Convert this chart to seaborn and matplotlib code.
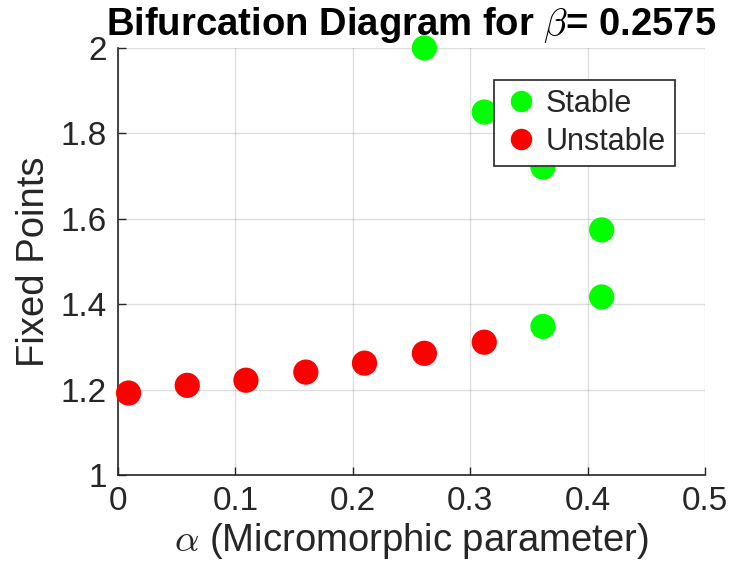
import numpy as np
import pandas as pd
import matplotlib
matplotlib.use("Agg")
import matplotlib.pyplot as plt
import seaborn as sns

# fixed points
alpha_unstable = [0.009, 0.059, 0.109, 0.160, 0.210, 0.261, 0.312]
fp_unstable = [1.192, 1.210, 1.222, 1.241, 1.262, 1.285, 1.311]
alpha_stable = [0.261, 0.312, 0.362, 0.362, 0.412, 0.412]
fp_stable = [2.000, 1.850, 1.721, 1.348, 1.574, 1.417]

xticks = [0, 0.1, 0.2, 0.3, 0.4, 0.5]
yticks = [1, 1.2, 1.4, 1.6, 1.8, 2]
ytick_labels = ["1", "1.2", "1.4", "1.6", "1.8", "2"]

df = pd.DataFrame({
    "alpha": alpha_stable + alpha_unstable,
    "fp": fp_stable + fp_unstable,
    "kind": ["Stable"] * len(alpha_stable) + ["Unstable"] * len(alpha_unstable),
})

sns.set_theme(style="white")
plt.rcParams["font.family"] = ["Liberation Sans", "DejaVu Sans"]
plt.rcParams["mathtext.fontset"] = "cm"

fig = plt.figure(figsize=(7.31, 5.76), dpi=100)
ax = fig.add_axes([0.1614, 0.1753, 0.803, 0.7414])

sns.scatterplot(data=df, x="alpha", y="fp", hue="kind",
                hue_order=["Stable", "Unstable"],
                palette={"Stable": "#00ff00", "Unstable": "#ff0000"},
                s=330, linewidth=0, ax=ax, zorder=3, clip_on=False)

ax.set_xlim(0, 0.5)
ax.set_ylim(1, 2)
ax.set_xticks(xticks)
ax.set_xticklabels(["0", "0.1", "0.2", "0.3", "0.4", "0.5"])
ax.set_yticks(yticks)
ax.set_yticklabels(ytick_labels)
ax.grid(True, color="black", alpha=0.13, linewidth=1)
ax.set_axisbelow(True)

for side in ["top", "right"]:
    ax.spines[side].set_visible(False)
for side in ["left", "bottom"]:
    ax.spines[side].set_color("#262626")
    ax.spines[side].set_linewidth(1.2)

ax.tick_params(direction="in", length=6, width=1, colors="#262626",
               labelsize=24, pad=8, left=True, bottom=True)

ax.set_xlabel(r"$\alpha$ (Micromorphic parameter)", fontsize=27.5, color="#262626", labelpad=3)
ax.set_ylabel("Fixed Points", fontsize=27.5, color="#262626", labelpad=6)
ax.set_title(r"Bifurcation Diagram for $\beta$= 0.2575", fontsize=27.5,
             fontweight="bold", color="black", pad=9)

leg = ax.legend(loc="upper left", bbox_to_anchor=(0.6405, 0.925), borderaxespad=0,
                fontsize=22, frameon=True, fancybox=False, framealpha=1,
                edgecolor="#262626", handletextpad=0.2, borderpad=0.3,
                labelspacing=0.25, markerscale=0.85, handlelength=1.2)
leg.get_frame().set_linewidth(1.2)

fig.savefig("out.png", dpi=100)
